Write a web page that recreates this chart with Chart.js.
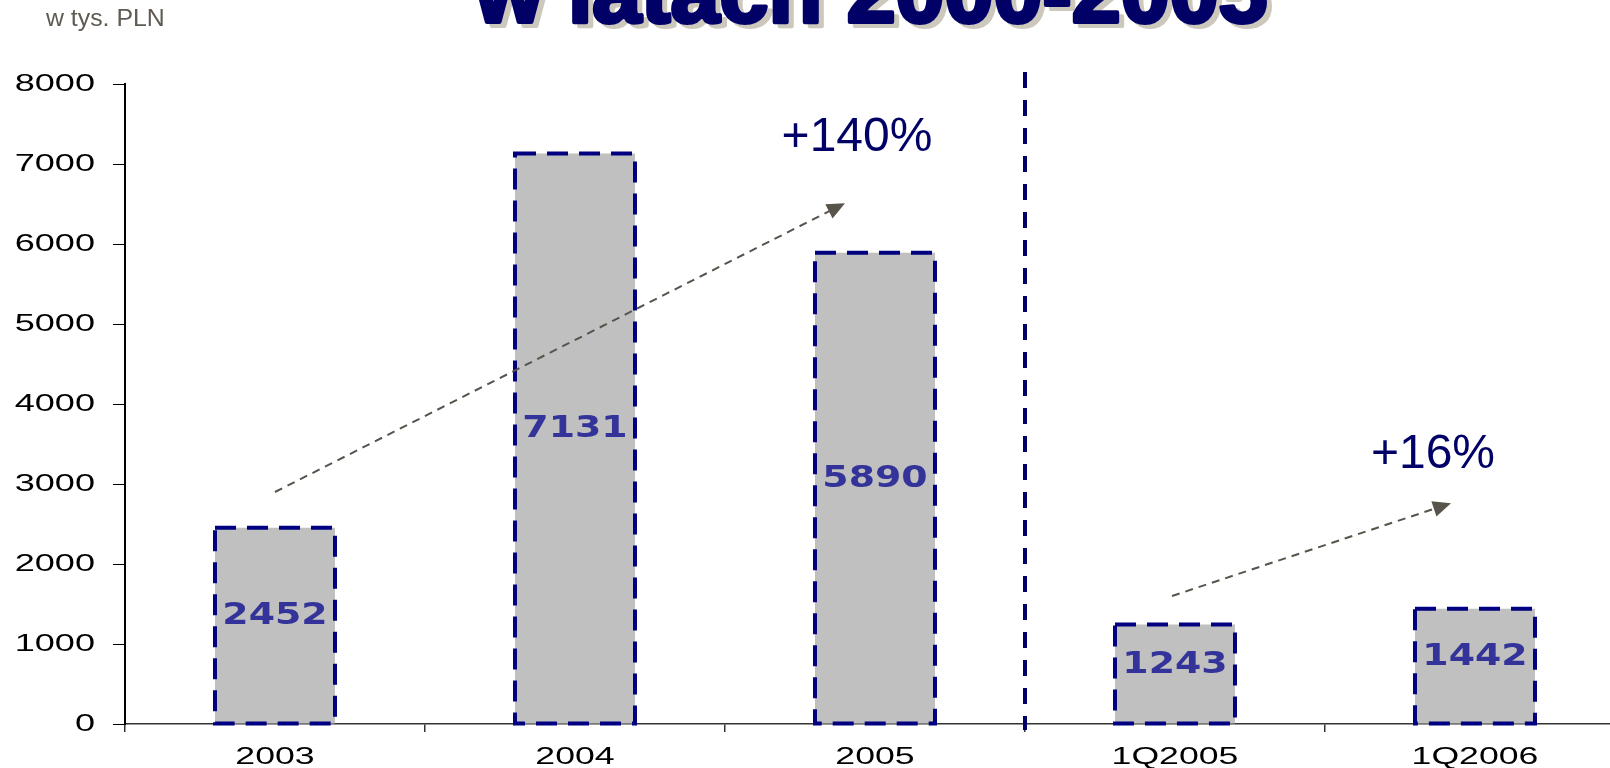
<!DOCTYPE html>
<html lang="pl">
<head>
    <meta charset="UTF-8">
    <title>w latach 2000-2005</title>
    <script src="https://cdn.jsdelivr.net/npm/chart.js"></script>
</head>
<style>
  body { margin: 0; overflow: hidden; background: #fff; }
  canvas { display: block; }
</style>
<body>
    <canvas id="myChart" width="1640" height="768"></canvas>
    <script>
      // dane z wykresu (w tys. PLN)
      const categories = ['2003', '2004', '2005', '1Q2005', '1Q2006'];
      const values = [2452, 7131, 5890, 1243, 1442];
      const yTicks = { min: 0, max: 8000, step: 1000 };
      const growthLabels = ['+140%', '+16%'];

      // strzalki i opisy w jednostkach osi (indeks kategorii, wartosc)
      const arrows = [
        { from: [0, 2900], to: [1.9, 6510] },
        { from: [2.99, 1600], to: [3.92, 2760] }
      ];
      const growthAt = [[1.94, 7330], [3.86, 3360]];

      // podpisy osi rozciagniete w poziomie jak na oryginale
      function stretchedText(ctx, text, x, y, sx, align, base) {
        ctx.save();
        ctx.translate(x, y);
        ctx.scale(sx, 1);
        ctx.textAlign = align;
        ctx.textBaseline = base;
        ctx.fillText(text, 0, 0);
        ctx.restore();
      }

      const decorations = {
        id: 'decorations',
        afterDatasetsDraw(chart) {
          const ctx = chart.ctx;
          const xs = chart.scales.x, ys = chart.scales.y;
          const meta = chart.getDatasetMeta(0);

          // przerywane obramowanie slupkow + wartosci
          meta.data.forEach((bar, i) => {
            const p = bar.getProps(['x', 'y', 'base', 'width'], true);
            ctx.save();
            ctx.setLineDash([21, 11]);
            ctx.lineWidth = 4;
            ctx.strokeStyle = '#000080';
            ctx.strokeRect(p.x - p.width / 2, p.y, p.width, p.base - p.y);
            ctx.restore();

            ctx.save();
            ctx.fillStyle = '#333399';
            ctx.font = 'bold 31px "DejaVu Sans"';
            stretchedText(ctx, String(values[i]), p.x, ys.getPixelForValue(values[i] / 2 + 120), 1.22, 'center', 'middle');
            ctx.restore();
          });

          // pionowa linia podzialu
          ctx.save();
          const dx = xs.getPixelForValue(2.5);
          ctx.setLineDash([16, 12]);
          ctx.lineWidth = 4;
          ctx.strokeStyle = '#000066';
          ctx.beginPath();
          ctx.moveTo(dx, ys.getPixelForValue(8150));
          ctx.lineTo(dx, chart.chartArea.bottom + 6);
          ctx.stroke();
          ctx.restore();

          // strzalki
          arrows.forEach(a => {
            const x1 = xs.getPixelForValue(a.from[0]), y1 = ys.getPixelForValue(a.from[1]);
            const x2 = xs.getPixelForValue(a.to[0]), y2 = ys.getPixelForValue(a.to[1]);
            const ang = Math.atan2(y2 - y1, x2 - x1);
            ctx.save();
            ctx.strokeStyle = '#58534b';
            ctx.fillStyle = '#58534b';
            ctx.lineWidth = 2;
            ctx.setLineDash([8, 6]);
            ctx.beginPath();
            ctx.moveTo(x1, y1);
            ctx.lineTo(x2 - 14 * Math.cos(ang), y2 - 14 * Math.sin(ang));
            ctx.stroke();
            ctx.setLineDash([]);
            ctx.translate(x2, y2);
            ctx.rotate(ang);
            ctx.beginPath();
            ctx.moveTo(0, 0);
            ctx.lineTo(-18, -8);
            ctx.lineTo(-18, 8);
            ctx.closePath();
            ctx.fill();
            ctx.restore();
          });

          // opisy wzrostu
          ctx.save();
          ctx.fillStyle = '#000066';
          ctx.font = '48px "Liberation Sans", Arial';
          ctx.textAlign = 'center';
          ctx.textBaseline = 'middle';
          growthLabels.forEach((t, i) => {
            ctx.fillText(t, xs.getPixelForValue(growthAt[i][0]), ys.getPixelForValue(growthAt[i][1]));
          });
          ctx.restore();
        },
        afterDraw(chart) {
          const ctx = chart.ctx;
          const xs = chart.scales.x, ys = chart.scales.y;
          ctx.save();
          ctx.fillStyle = '#000';
          ctx.font = '23px "Liberation Sans", Arial';
          ys.ticks.forEach(t => {
            stretchedText(ctx, String(t.value), 95, ys.getPixelForValue(t.value) + 1, 1.57, 'right', 'middle');
          });
          categories.forEach((c, i) => {
            stretchedText(ctx, c, xs.getPixelForValue(i), 764, 1.55, 'center', 'alphabetic');
          });

          // jednostka
          ctx.fillStyle = '#5f5a52';
          ctx.font = '23px "Liberation Sans", Arial';
          stretchedText(ctx, 'w tys. PLN', 46, 26, 1.08, 'left', 'alphabetic');

          // tytul (uciety u gory)
          ctx.font = 'bold 88px "Liberation Sans", Arial';
          ctx.textAlign = 'left';
          ctx.textBaseline = 'alphabetic';
          ctx.lineJoin = 'round';
          ctx.lineWidth = 4;
          ctx.fillStyle = ctx.strokeStyle = '#cdc8bc';
          ctx.fillText('w latach 2000-2005', 480, 26);
          ctx.strokeText('w latach 2000-2005', 480, 26);
          ctx.fillStyle = ctx.strokeStyle = '#000066';
          ctx.fillText('w latach 2000-2005', 475, 22);
          ctx.strokeText('w latach 2000-2005', 475, 22);
          ctx.restore();
        }
      };

      const ctx = document.getElementById('myChart').getContext('2d');
      const myChart = new Chart(ctx, {
          type: 'bar',
          data: {
              labels: categories,
              datasets: [{
                  data: values,
                  backgroundColor: '#c0c0c0',
                  borderWidth: 0,
                  barPercentage: 0.4,
                  categoryPercentage: 1
              }]
          },
          options: {
              responsive: false,
              animation: false,
              devicePixelRatio: 1,
              layout: { padding: { top: 84, right: 15, left: 0, bottom: 0 } },
              plugins: { legend: { display: false }, tooltip: { enabled: false } },
              scales: {
                  x: {
                      afterFit: s => { s.height = 44; },
                      ticks: { display: false },
                      grid: { offset: true, drawOnChartArea: false, tickLength: 8, color: '#333', lineWidth: 1.5 },
                      border: { color: '#333', width: 1.5 }
                  },
                  y: {
                      min: yTicks.min,
                      max: yTicks.max,
                      afterFit: s => { s.width = 125; },
                      ticks: { display: false, stepSize: yTicks.step },
                      grid: { drawOnChartArea: false, tickLength: 12, color: '#000', lineWidth: 1 },
                      border: { color: '#000', width: 2 }
                  }
              }
          },
          plugins: [decorations]
      });
    </script>
</body>
</html>
